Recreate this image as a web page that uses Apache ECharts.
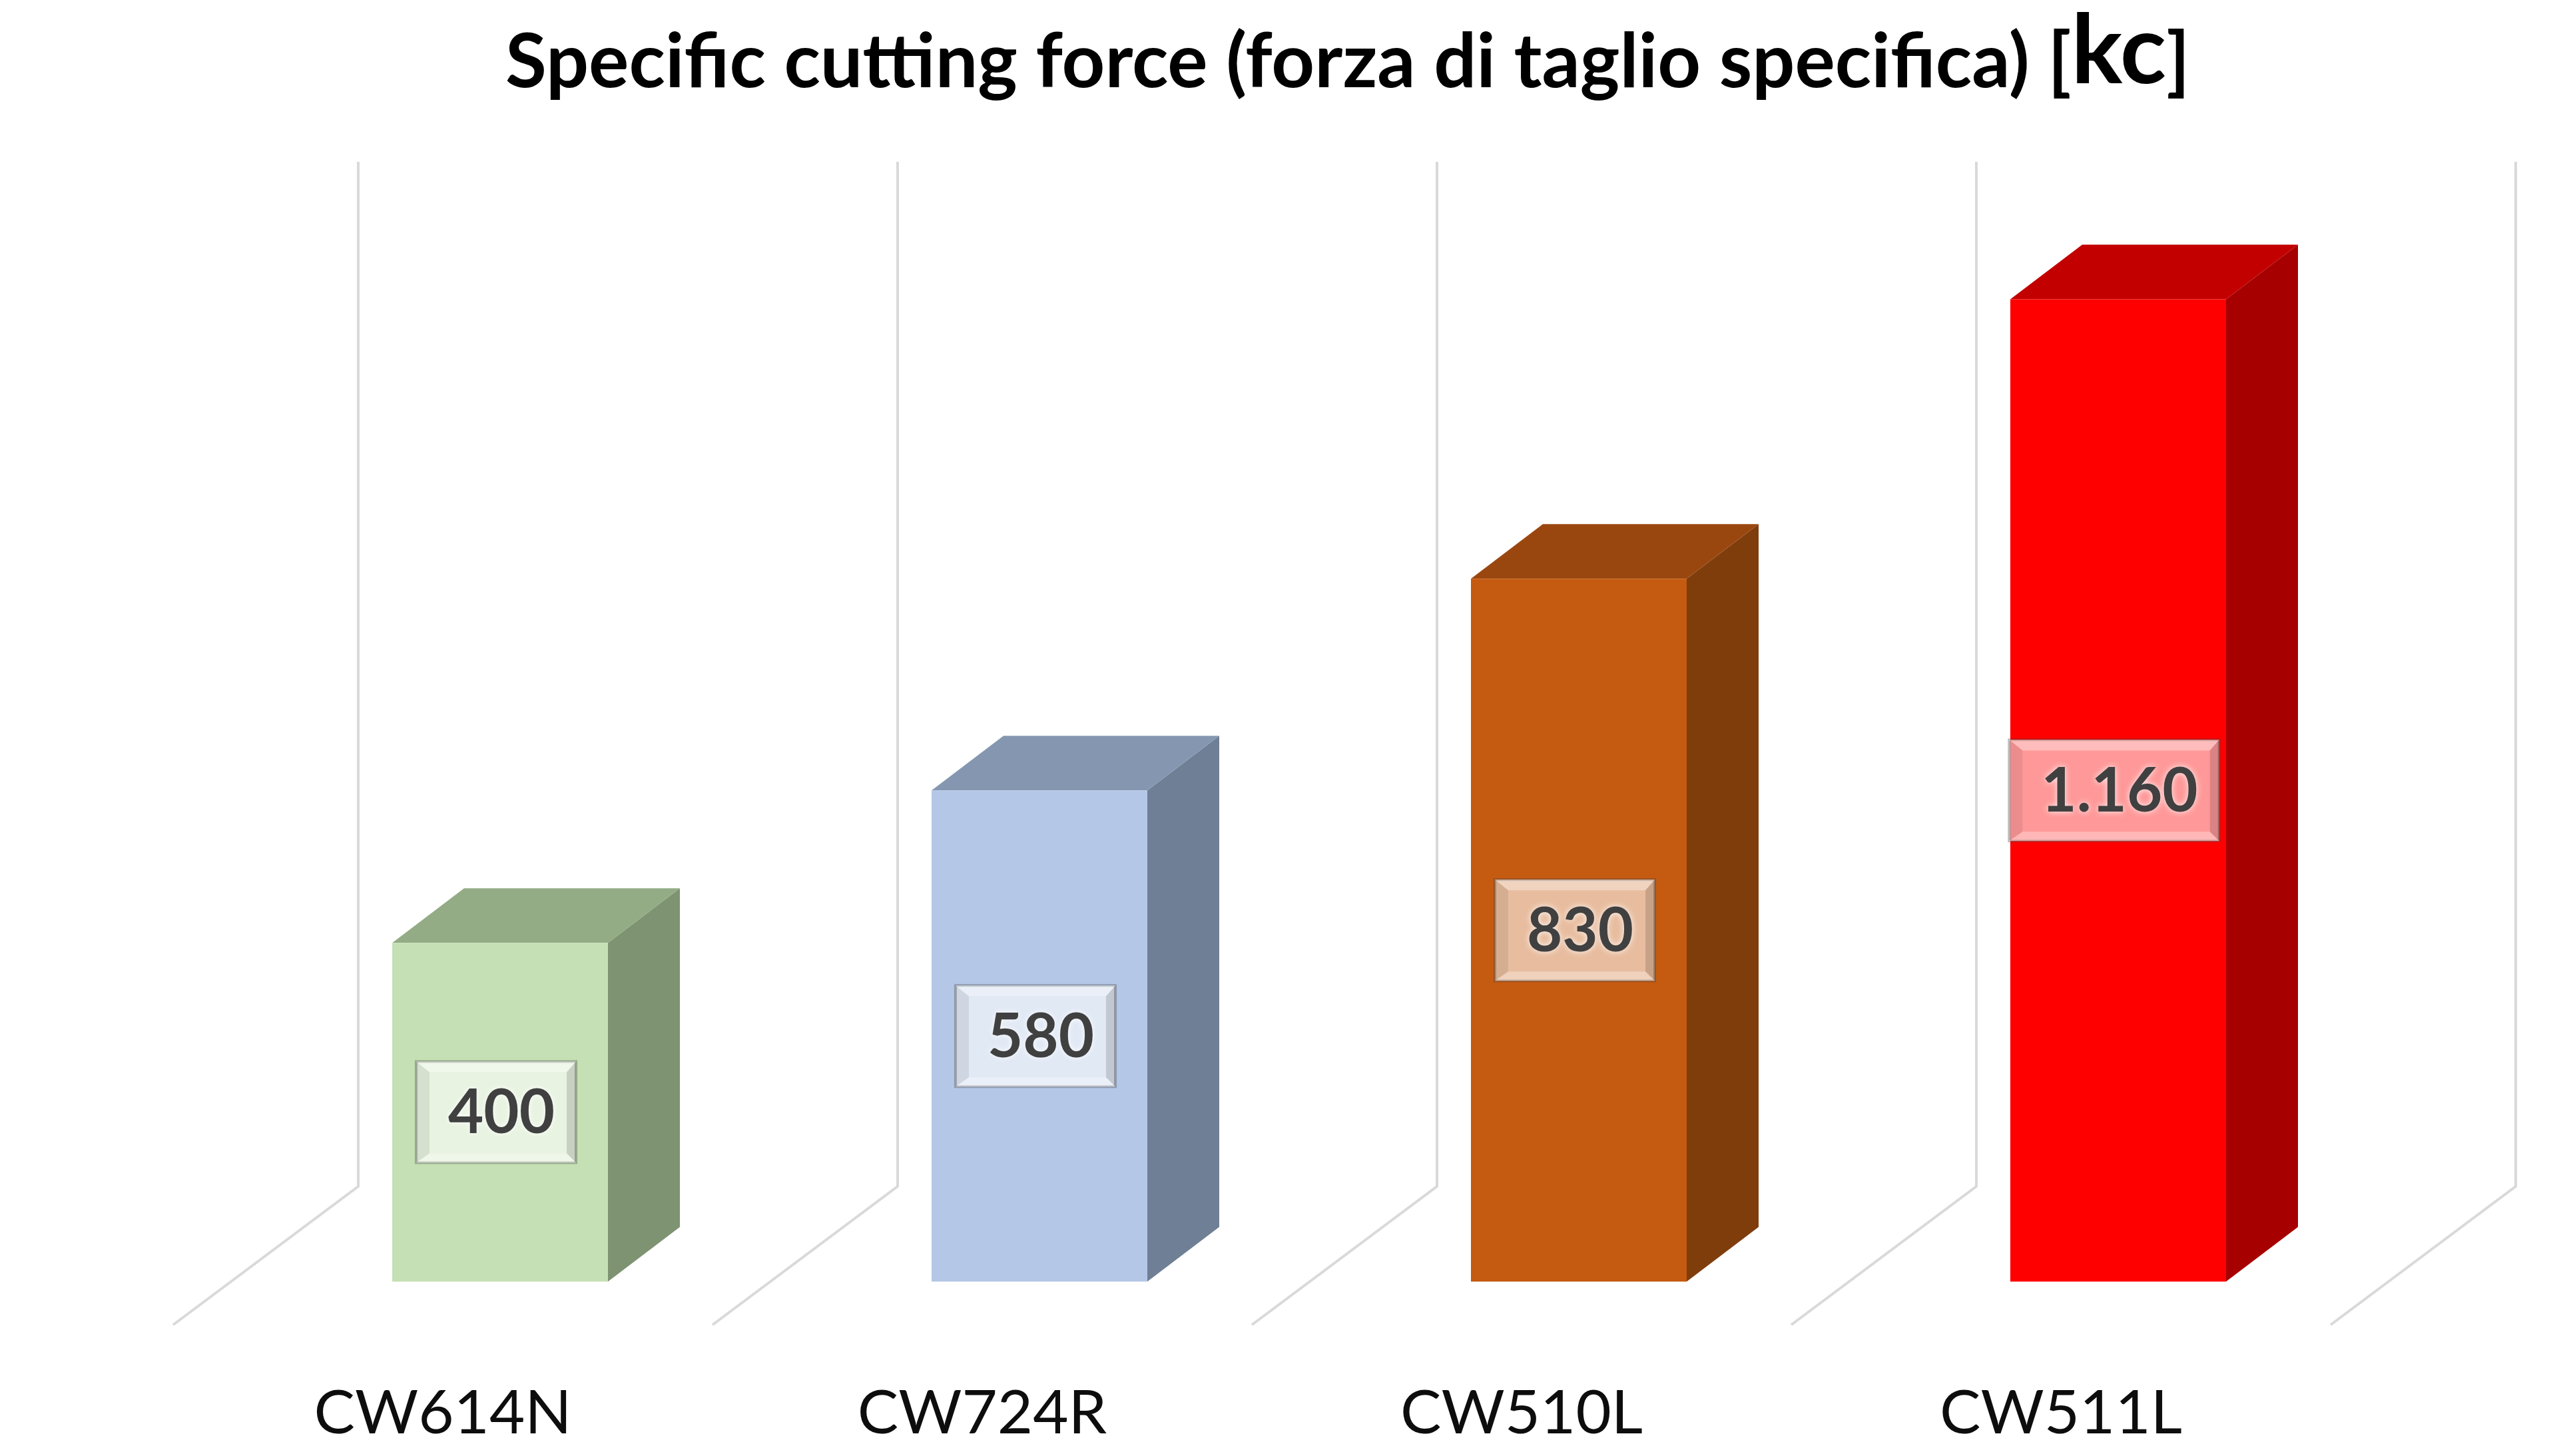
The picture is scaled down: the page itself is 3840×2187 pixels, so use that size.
<!DOCTYPE html>
<html>
<head>
<meta charset="utf-8">
<script src="https://cdn.jsdelivr.net/npm/echarts@6/dist/echarts.min.js"></script>
<style>
html, body { margin: 0; padding: 0; background: #fff; }
#chart { width: 3840px; height: 2187px; }
</style>
</head>
<body>
<div id="chart"></div>
<script>
// dati
const categories = ['CW614N', 'CW724R', 'CW510L', 'CW511L'];
const values = [400, 580, 830, 1160];
const frontColors = ['#c5e0b4', '#b4c7e7', '#c55a11', '#ff0000'];
const topColors = ['#93ac85', '#8597b0', '#9a470f', '#c30000'];
const sideColors = ['#7e9371', '#6f7f95', '#7f3d0c', '#a60000'];
const yMax = 1210;

// prospettiva (px)
const DX = 108, DY = -82;      // profondità barra
const WALL = [192, -143];      // parete di fondo
const FLOOR = [-86, 65];       // bordo anteriore pavimento

function fmt(v) {
    return String(v).replace(/\B(?=(\d{3})+(?!\d))/g, '.');
}

const measureCtx = document.createElement('canvas').getContext('2d');
function textWidth(s, font) {
    measureCtx.font = font;
    return measureCtx.measureText(s).width;
}

const lineStyle = { stroke: '#d9d9d9', lineWidth: 4 };

// linee di griglia (parete + pavimento)
function renderGrid(params, api) {
    const i = api.value(0);
    const c = api.coord([i, 0]);
    const top = api.coord([i, yMax])[1];
    const band = api.size([1, 0])[0];
    const xs = [c[0] - band / 2];
    if (i === categories.length - 1) xs.push(c[0] + band / 2);
    const children = [];
    xs.forEach(x => {
        const bx = x + WALL[0], by = c[1] + WALL[1];
        children.push({
            type: 'polyline',
            shape: { points: [[bx, top + WALL[1]], [bx, by], [x + FLOOR[0], c[1] + FLOOR[1]]] },
            style: Object.assign({ fill: null }, lineStyle)
        });
    });
    return { type: 'group', children };
}

// barre 3D con etichetta
function renderBar(params, api) {
    const i = api.value(0), v = api.value(1);
    const base = api.coord([i, 0]), top = api.coord([i, v]);
    const w = api.size([1, 0])[0] * 0.4;
    const x0 = base[0] - w / 2, x1 = base[0] + w / 2, y0 = base[1], y1 = top[1];
    const children = [
        { type: 'polygon', shape: { points: [[x1, y1], [x1 + DX, y1 + DY], [x1 + DX, y0 + DY], [x1, y0]] }, style: { fill: sideColors[i] } },
        { type: 'polygon', shape: { points: [[x0, y1], [x1, y1], [x1 + DX, y1 + DY], [x0 + DX, y1 + DY]] }, style: { fill: topColors[i] } },
        { type: 'rect', shape: { x: x0, y: y1, width: w, height: y0 - y1 }, style: { fill: frontColors[i] } }
    ];

    const label = fmt(v);
    const font = 'bold 92px Lato';
    const bw = textWidth(label, font) + 80, bh = 152;
    const cx = base[0] - 6, cy = (y0 + y1) / 2;
    const bx = cx - bw / 2, by = cy - bh / 2;
    const L = 20, T = 16, R = 14, B = 14;
    children.push(
        { type: 'rect', shape: { x: bx, y: by, width: bw, height: bh }, style: { fill: 'rgba(255,255,255,0.6)', stroke: 'rgba(70,70,70,0.35)', lineWidth: 4 } },
        { type: 'polygon', shape: { points: [[bx, by], [bx + bw, by], [bx + bw - R, by + T], [bx + L, by + T]] }, style: { fill: 'rgba(255,255,255,0.35)' } },
        { type: 'polygon', shape: { points: [[bx, by], [bx + L, by + T], [bx + L, by + bh - B], [bx, by + bh]] }, style: { fill: 'rgba(0,0,0,0.08)' } },
        { type: 'polygon', shape: { points: [[bx + bw, by], [bx + bw, by + bh], [bx + bw - R, by + bh - B], [bx + bw - R, by + T]] }, style: { fill: 'rgba(0,0,0,0.14)' } },
        { type: 'polygon', shape: { points: [[bx, by + bh], [bx + bw, by + bh], [bx + bw - R, by + bh - B], [bx + L, by + bh - B]] }, style: { fill: 'rgba(255,255,255,0.3)' } },
        {
            type: 'text',
            style: {
                x: cx + 8, y: cy + 2, text: label,
                fontFamily: 'Lato', fontWeight: 'bold', fontSize: 92,
                fill: '#404040', align: 'center', verticalAlign: 'middle',
                textShadowColor: 'rgba(255,255,255,0.9)', textShadowBlur: 10
            }
        }
    );
    return { type: 'group', children };
}

const chart = echarts.init(document.getElementById('chart'));
chart.setOption({
    animation: false,
    backgroundColor: '#fff',
    title: {
        text: '{a|Specific cutting force (forza di taglio specifica) [}{b|kc}{a|]}',
        left: 754,
        top: 0,
        textStyle: {
            rich: {
                a: { fontFamily: 'Lato', fontWeight: 'bold', fontSize: 113, color: '#000', lineHeight: 124, verticalAlign: 'bottom' },
                b: { fontFamily: 'Lato', fontWeight: 'bold', fontSize: 144, color: '#000', lineHeight: 146, verticalAlign: 'bottom' }
            }
        }
    },
    grid: { left: 346, right: 254, top: 386, bottom: 262 },
    xAxis: {
        type: 'category',
        data: categories,
        axisLine: { show: false },
        axisTick: { show: false },
        splitLine: { show: false },
        axisLabel: {
            margin: 152,
            fontFamily: 'Lato',
            fontSize: 92,
            lineHeight: 92,
            color: '#0d0d0d',
            padding: [0, 172, 0, 0]
        }
    },
    yAxis: { type: 'value', min: 0, max: yMax, show: false },
    series: [
        {
            type: 'custom',
            z: 1,
            silent: true,
            renderItem: renderGrid,
            data: categories.map((c, i) => [i, 0])
        },
        {
            type: 'custom',
            z: 2,
            renderItem: renderBar,
            data: values.map((v, i) => [i, v])
        }
    ]
});
</script>
</body>
</html>
